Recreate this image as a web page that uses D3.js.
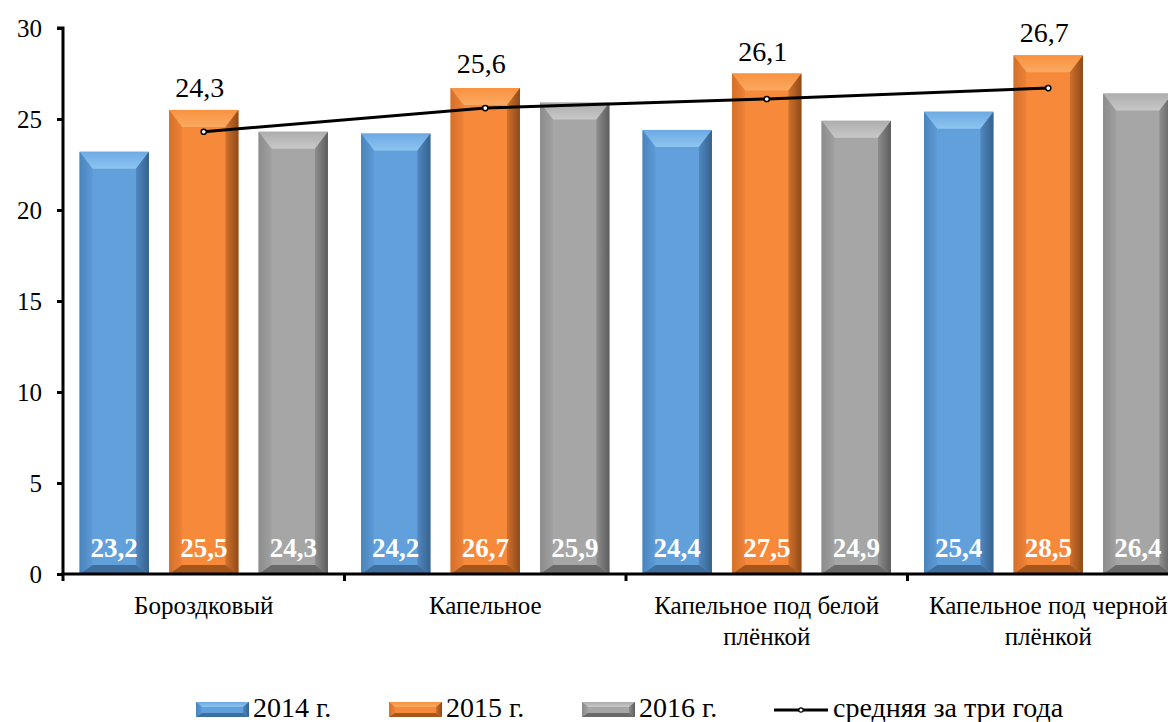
<!DOCTYPE html>
<html><head><meta charset="utf-8">
<script src="https://cdn.jsdelivr.net/npm/d3@7"></script>
<style>html,body{margin:0;padding:0;background:#fff;}svg{display:block;}</style>
</head><body>
<svg id="c" width="1168" height="722"></svg>
<script>
const categories = [["Бороздковый"], ["Капельное"], ["Капельное под белой", "плёнкой"], ["Капельное под черной", "плёнкой"]];
const seriesNames = ["2014 г.", "2015 г.", "2016 г."];
const values2014 = [23.2, 24.2, 24.4, 25.4];
const values2015 = [25.5, 26.7, 27.5, 28.5];
const values2016 = [24.3, 25.9, 24.9, 26.4];
const averages = [24.3, 25.6, 26.1, 26.7];
const lineName = "средняя за три года";
const yTicks = [0, 5, 10, 15, 20, 25, 30];

const FONT = "'Times New Roman', 'Liberation Serif', Tinos, serif";
const palettes = [
  {face:"#62A0DC", top1:"#6DAAE3", top2:"#8DC4F0", left1:"#4A84BC", left2:"#5D9AD6", right1:"#4F88C0", right2:"#36628D", bottom:"#3F6F9E"},
  {face:"#F7893A", top1:"#F8923F", top2:"#FBAA62", left1:"#D4702A", left2:"#EE8237", right1:"#D0702C", right2:"#8E4A18", bottom:"#A5561D"},
  {face:"#A6A6A6", top1:"#ADADAD", top2:"#C8C8C8", left1:"#8C8C8C", left2:"#A0A0A0", right1:"#8E8E8E", right2:"#5C5C5C", bottom:"#6A6A6A"}
];

const svg = d3.select("#c");
const plotLeft = 63, plotTop = 28, plotBottom = 574;
const catStep = 281.5;
const x0 = d3.scaleBand().domain(d3.range(categories.length)).range([plotLeft, plotLeft + catStep * categories.length]).padding(0);
const x1 = d3.scaleBand().domain(d3.range(seriesNames.length)).range([0, x0.bandwidth()]).paddingInner(0.225).paddingOuter(0.185);
const y = d3.scaleLinear().domain([0, 30]).range([plotBottom, plotTop]);

const defs = svg.append("defs");
palettes.forEach((p, i) => {
  const g1 = defs.append("linearGradient").attr("id", "top" + i).attr("x1", 0).attr("y1", 0).attr("x2", 0).attr("y2", 1);
  g1.append("stop").attr("offset", "0").attr("stop-color", p.top1);
  g1.append("stop").attr("offset", "1").attr("stop-color", p.top2);
  const g2 = defs.append("linearGradient").attr("id", "left" + i).attr("x1", 0).attr("y1", 0).attr("x2", 1).attr("y2", 0);
  g2.append("stop").attr("offset", "0").attr("stop-color", p.left1);
  g2.append("stop").attr("offset", "1").attr("stop-color", p.left2);
  const g3 = defs.append("linearGradient").attr("id", "right" + i).attr("x1", 0).attr("y1", 0).attr("x2", 1).attr("y2", 0);
  g3.append("stop").attr("offset", "0").attr("stop-color", p.right1);
  g3.append("stop").attr("offset", "1").attr("stop-color", p.right2);
});

function bevel(g, xa, xb, yt, yb, i, bx, byT, byB) {
  const p = palettes[i];
  g.append("rect").attr("x", xa).attr("y", yt).attr("width", xb - xa).attr("height", yb - yt).attr("fill", p.face);
  const poly = (pts, fill) => g.append("polygon").attr("points", pts.map(d => d.join(",")).join(" ")).attr("fill", fill);
  poly([[xa, yt], [xb, yt], [xb - bx, yt + byT], [xa + bx, yt + byT]], `url(#top${i})`);
  poly([[xa, yt], [xa + bx, yt + byT], [xa + bx, yb - byB], [xa, yb]], `url(#left${i})`);
  poly([[xb, yt], [xb, yb], [xb - bx, yb - byB], [xb - bx, yt + byT]], `url(#right${i})`);
  poly([[xa, yb], [xa + bx, yb - byB], [xb - bx, yb - byB], [xb, yb]], p.bottom);
}
function txt(sel, size, extra) {
  return sel.attr("font-family", FONT).attr("style", `font-family:${FONT};font-size:${size}px;${extra || ""}`);
}

const seriesVals = [values2014, values2015, values2016];
const barsG = svg.append("g");
categories.forEach((c, ci) => {
  seriesVals.forEach((vals, si) => {
    const xa = x0(ci) + x1(si), xb = xa + x1.bandwidth();
    bevel(barsG, xa, xb, y(vals[ci]), y(0), si, 13, 17, 9);
  });
});

categories.forEach((c, ci) => {
  seriesVals.forEach((vals, si) => {
    txt(svg.append("text"), 27, "font-weight:bold;fill:#fff")
      .attr("x", x0(ci) + x1(si) + x1.bandwidth() / 2).attr("y", y(0) - 17)
      .attr("text-anchor", "middle")
      .text(String(vals[ci]).replace(".", ","));
  });
});

const lineX = ci => x0(ci) + x1(1) + x1.bandwidth() / 2;
svg.append("path").datum(averages).attr("fill", "none").attr("stroke", "#000").attr("stroke-width", 3)
  .attr("d", d3.line().x((d, i) => lineX(i)).y(d => y(d)));
svg.selectAll("circle.m").data(averages).join("circle").attr("class", "m")
  .attr("cx", (d, i) => lineX(i)).attr("cy", d => y(d)).attr("r", 2.6)
  .attr("fill", "#fff").attr("stroke", "#000").attr("stroke-width", 1.5);
averages.forEach((d, i) => {
  txt(svg.append("text"), 28, "fill:#000")
    .attr("x", lineX(i) - 4).attr("y", Math.min(y(values2015[i]) - 13, y(d) - 35))
    .attr("text-anchor", "middle")
    .text(String(d).replace(".", ","));
});

const yAxis = d3.axisLeft(y).tickValues(yTicks).tickSize(6).tickPadding(15).tickFormat(d => d);
const ya = svg.append("g").attr("transform", `translate(${plotLeft},0)`).call(yAxis);
ya.attr("font-family", FONT).attr("font-size", null);
ya.select(".domain").attr("stroke", "#000").attr("stroke-width", 3).attr("d", `M-6,${plotTop}H0V${plotBottom}`);
ya.selectAll(".tick line").attr("stroke", "#000").attr("stroke-width", 3);
txt(ya.selectAll(".tick text"), 25, "fill:#000");

const xTicks = d3.range(categories.length + 1).map(i => plotLeft + i * catStep);
const xg = svg.append("g");
xg.append("line").attr("x1", plotLeft - 1.5).attr("x2", plotLeft + catStep * categories.length).attr("y1", plotBottom).attr("y2", plotBottom)
  .attr("stroke", "#000").attr("stroke-width", 3);
xg.selectAll("line.t").data(xTicks).join("line").attr("class", "t")
  .attr("x1", d => d).attr("x2", d => d).attr("y1", plotBottom).attr("y2", plotBottom + 7)
  .attr("stroke", "#000").attr("stroke-width", 3);
categories.forEach((lines, ci) => {
  const t = txt(svg.append("text"), 25, "fill:#000").attr("x", x0(ci) + x0.bandwidth() / 2).attr("y", 614)
    .attr("text-anchor", "middle");
  lines.forEach((l, li) => t.append("tspan").attr("x", x0(ci) + x0.bandwidth() / 2).attr("dy", li === 0 ? 0 : 31).text(l));
});

const legX = [196, 389, 582];
seriesNames.forEach((n, i) => {
  const g = svg.append("g");
  bevel(g, legX[i], legX[i] + 53, 702, 717, i, 6, 5, 4);
  txt(svg.append("text"), 28, "fill:#000").attr("x", legX[i] + 57).attr("y", 717).text(n);
});
svg.append("line").attr("x1", 774).attr("x2", 828).attr("y1", 710).attr("y2", 710).attr("stroke", "#000").attr("stroke-width", 3);
svg.append("circle").attr("cx", 801).attr("cy", 710).attr("r", 2.2).attr("fill", "#fff").attr("stroke", "#000").attr("stroke-width", 1.2);
txt(svg.append("text"), 28, "fill:#000").attr("x", 833).attr("y", 717).text(lineName);
</script>
</body></html>
